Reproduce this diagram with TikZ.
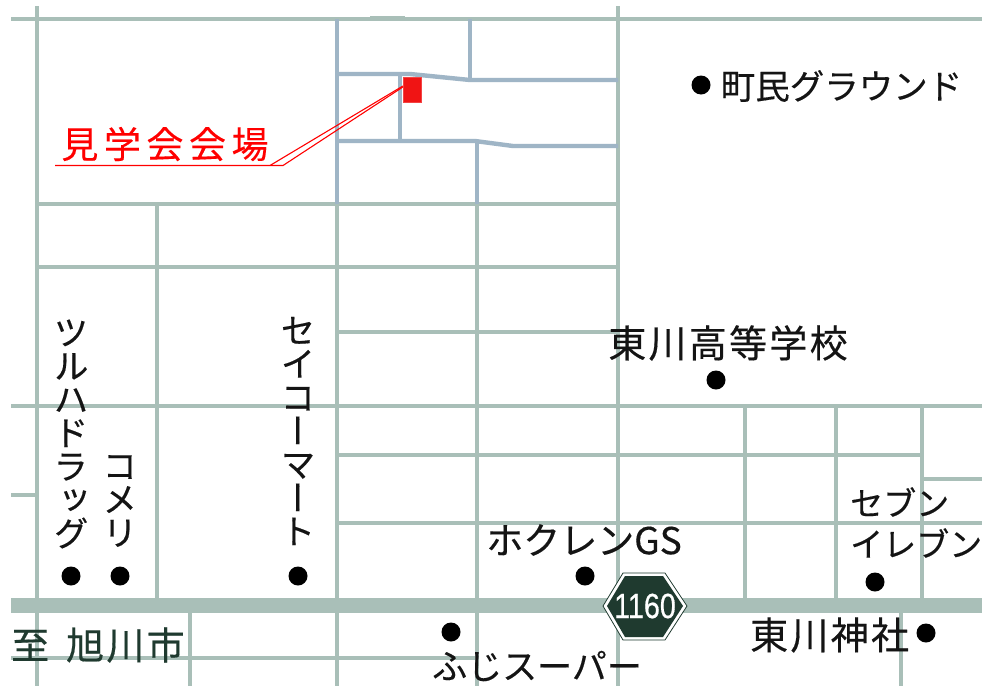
\documentclass[tikz,border=0pt]{standalone}
\usepackage{fontspec}
\setmainfont{Noto Sans CJK JP}
\newfontfamily\jp[FakeBold=0.35]{Noto Sans CJK JP}
\newfontfamily\jpv[RawFeature=+vert,FakeBold=0.35]{Noto Sans CJK JP}
\newfontfamily\jpred[LetterSpace=15,FakeBold=0.2]{Noto Sans CJK JP}
\newfontfamily\jpwide[LetterSpace=6,FakeBold=0.35]{Noto Sans CJK JP}
\newfontfamily\numfont[FakeBold=0.6]{Liberation Sans}
\definecolor{roadg}{HTML}{A9BFB8}
\definecolor{roadb}{HTML}{9FB5C6}
\definecolor{ink}{HTML}{141414}
\definecolor{hexdark}{HTML}{1F3A2F}
\definecolor{venue}{HTML}{F01414}
\tikzset{
  road/.style={draw=roadg,line width=4.6pt},
  lane/.style={draw=roadb,line width=4.4pt},
  highway/.style={draw=roadg,line width=15pt},
  spot/.style={circle,fill=black,inner sep=0pt,minimum size=19pt},
  lab/.style={inner sep=0pt,text=ink,font=\jp\fontsize{35}{35}\selectfont},
  labwide/.style={inner sep=0pt,text=ink,font=\jpwide\fontsize{38}{38}\selectfont},
  vlab/.style={inner sep=0pt,text=ink,align=center,font=\jpv\fontsize{35}{33.5}\selectfont},
  leader/.style={draw=red,line width=1.1pt}
}
\begin{document}
\begin{tikzpicture}[x=1pt,y=-1pt]
\useasboundingbox (0,0) rectangle (992,686);
\fill[white] (0,0) rectangle (992,686);
% secondary streets
\draw[road] (11,19) -- (982,19);
\draw[road] (37,6) -- (37,686);
\draw[road] (618,6) -- (618,686);
\draw[road] (337,204) -- (337,686);
\draw[road] (37,204) -- (618,204);
\draw[road] (37,267) -- (618,267);
\draw[road] (337,332) -- (618,332);
\draw[road] (11,406) -- (982,406);
\draw[road] (337,455) -- (922,455);
\draw[road] (337,523) -- (982,523);
\draw[road] (11,495) -- (37,495);
\draw[road] (922,479) -- (982,479);
\draw[road] (11,658) -- (477,658);
\draw[road] (157,204) -- (157,598);
\draw[road] (477,204) -- (477,686);
\draw[road] (745,406) -- (745,598);
\draw[road] (836,406) -- (836,598);
\draw[road] (922,406) -- (922,598);
\draw[road] (190,598) -- (190,686);
\draw[road] (901,598) -- (901,686);
\draw[draw=roadg,line width=3pt] (370,17.5) -- (405,17.5);
% streets near the venue
\draw[lane] (337,19) -- (337,204);
\draw[lane] (470,19) -- (470,80);
\draw[lane] (337,74) -- (410,74) -- (470,80) -- (618,80);
\draw[lane] (400,74) -- (400,141);
\draw[lane] (337,141) -- (475,141) -- (513,146) -- (618,146);
\draw[lane] (477,143) -- (477,204);
% main road
\draw[highway] (11,605) -- (982,605);
% route shield
\fill[white,draw=hexdark,line width=.8pt] (603,606) -- (623,573) -- (665,573) -- (687,606) -- (665,640) -- (623,640) -- cycle;
\fill[hexdark] (607,606) -- (625,576) -- (663,576) -- (683,606) -- (663,637) -- (625,637) -- cycle;
\node[inner sep=0pt,text=white,font=\numfont\fontsize{35}{35}\selectfont] (shield) at (645,606) {\scalebox{.82}[1]{1160}};
% venue
\node[draw=venue!80!white,fill=venue,minimum width=18pt,minimum height=25pt,inner sep=0pt,line width=.3pt] (hall) at (412,89.5) {};
\node[inner sep=0pt,text=red,font=\jpred\fontsize{37}{37}\selectfont] (hallname) at (165,144) {見学会会場};
\coordinate (ulstart) at (55,165.5);
\coordinate (ulend) at (283,165.5);
\coordinate (ulbend) at (270,165.5);
\draw[leader] (ulstart) -- (ulend) -- (hall.west |- 0,87);
\draw[leader] (ulbend) -- (hall.west |- 0,86);
% places
\node[spot] (p1) at (701,85) {};
\node[lab,font=\jp\fontsize{34.5}{35}\selectfont] (t1) at (841.5,86) {町民グラウンド};
\node[labwide] (t2) at (728,343) {東川高等学校};
\node[spot] (p2) at (716,380) {};
\node[lab,font=\jp\fontsize{37}{37}\selectfont] (t3) at (584,540) {ホクレンGS};
\node[spot] (p3) at (585,576) {};
\node[lab,anchor=west,font=\jp\fontsize{33}{33}\selectfont] (t4) at (850,502) {セブン};
\node[lab,anchor=west,font=\jp\fontsize{33}{33}\selectfont] (t5) at (850,543) {イレブン};
\node[spot] (p4) at (875,582) {};
\node[labwide,anchor=west] (t6) at (750,635) {東川神社};
\node[spot] (p5) at (926,633) {};
\node[lab] (t7) at (537,666) {ふじスーパー};
\node[spot] (p6) at (451,632) {};
\node[labwide,anchor=west,text=hexdark] (t8) at (11,645) {至\hspace{17pt}旭川市};
\node[vlab] (t9) at (71,434) {ツ\\ル\\ハ\\ド\\ラ\\ッ\\グ};
\node[vlab] (t10) at (120,501) {コ\\メ\\リ};
\node[vlab] (t11) at (298,431) {セ\\イ\\コ\\ー\\マ\\ー\\ト};
\node[spot] (p7) at (71,576) {};
\node[spot] (p8) at (120,576) {};
\node[spot] (p9) at (298,576) {};
\end{tikzpicture}
\end{document}
